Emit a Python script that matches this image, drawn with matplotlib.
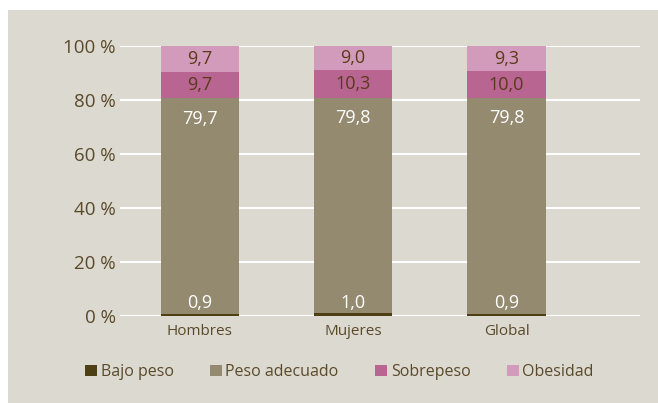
import matplotlib.pyplot as plt
from matplotlib.patches import Rectangle

# datos (%)
grupos = ['Hombres', 'Mujeres', 'Global']
bajo_peso = [0.9, 1.0, 0.9]
peso_adecuado = [79.7, 79.8, 79.8]
sobrepeso = [9.7, 10.3, 10.0]
obesidad = [9.7, 9.0, 9.3]

series = ['Bajo peso', 'Peso adecuado', 'Sobrepeso', 'Obesidad']
colores = ['#4f3f14', '#948a70', '#b86592', '#d39bbb']
fondo = '#dcd9d0'
texto = '#5a4a2a'

plt.rcParams['font.family'] = ['Open Sans', 'DejaVu Sans']

fig = plt.figure(figsize=(6.58, 4.03), dpi=100)
fig.patch.set_facecolor('white')
fig.patches.append(Rectangle((8 / 658, 0), 1, 1 - 10 / 403, transform=fig.transFigure,
                             facecolor=fondo, edgecolor='none', zorder=-10))

ax = fig.add_axes([120 / 658, 1 - 316 / 403, 520 / 658, 270 / 403])
ax.set_facecolor('none')

x = range(len(grupos))
ancho = 0.51
abajo = [0, 0, 0]
for nombre, vals, col in zip(series, [bajo_peso, peso_adecuado, sobrepeso, obesidad], colores):
    ax.bar(x, vals, ancho, bottom=abajo, color=col, label=nombre, zorder=3)
    for i, v in enumerate(vals):
        etiqueta = f'{v:.1f}'.replace('.', ',')
        if nombre == 'Bajo peso':
            y = abajo[i] + v + 4
            c = 'white'
        elif nombre == 'Peso adecuado':
            y = abajo[i] + v - 7.5
            c = 'white'
        else:
            y = abajo[i] + v / 2
            c = '#5a3a1a'
        ax.text(i, y, etiqueta, ha='center', va='center', color=c, fontsize=13, zorder=4)
    abajo = [a + v for a, v in zip(abajo, vals)]

ax.set_ylim(0, 100)
ax.set_xlim(-0.52, 2.87)
ax.set_yticks(range(0, 101, 20))
ax.set_yticklabels([f'{t} %' for t in range(0, 101, 20)])
ax.set_xticks(list(x))
ax.set_xticklabels(grupos)
ax.tick_params(axis='y', length=0, labelsize=13.5, labelcolor=texto, pad=3)
ax.tick_params(axis='x', length=0, labelsize=11, labelcolor=texto, pad=6)
ax.grid(axis='y', color='white', linewidth=1.5, zorder=0)
ax.set_axisbelow(True)
for s in ax.spines.values():
    s.set_visible(False)

leg = fig.legend(loc='center', bbox_to_anchor=(0.516, 1 - 372 / 403), ncol=4, frameon=False,
                 handlelength=0.75, handleheight=0.75, handletextpad=0.2, columnspacing=2.3,
                 prop={'size': 11.5})
for t in leg.get_texts():
    t.set_color(texto)

fig.savefig('out.png', dpi=100)
